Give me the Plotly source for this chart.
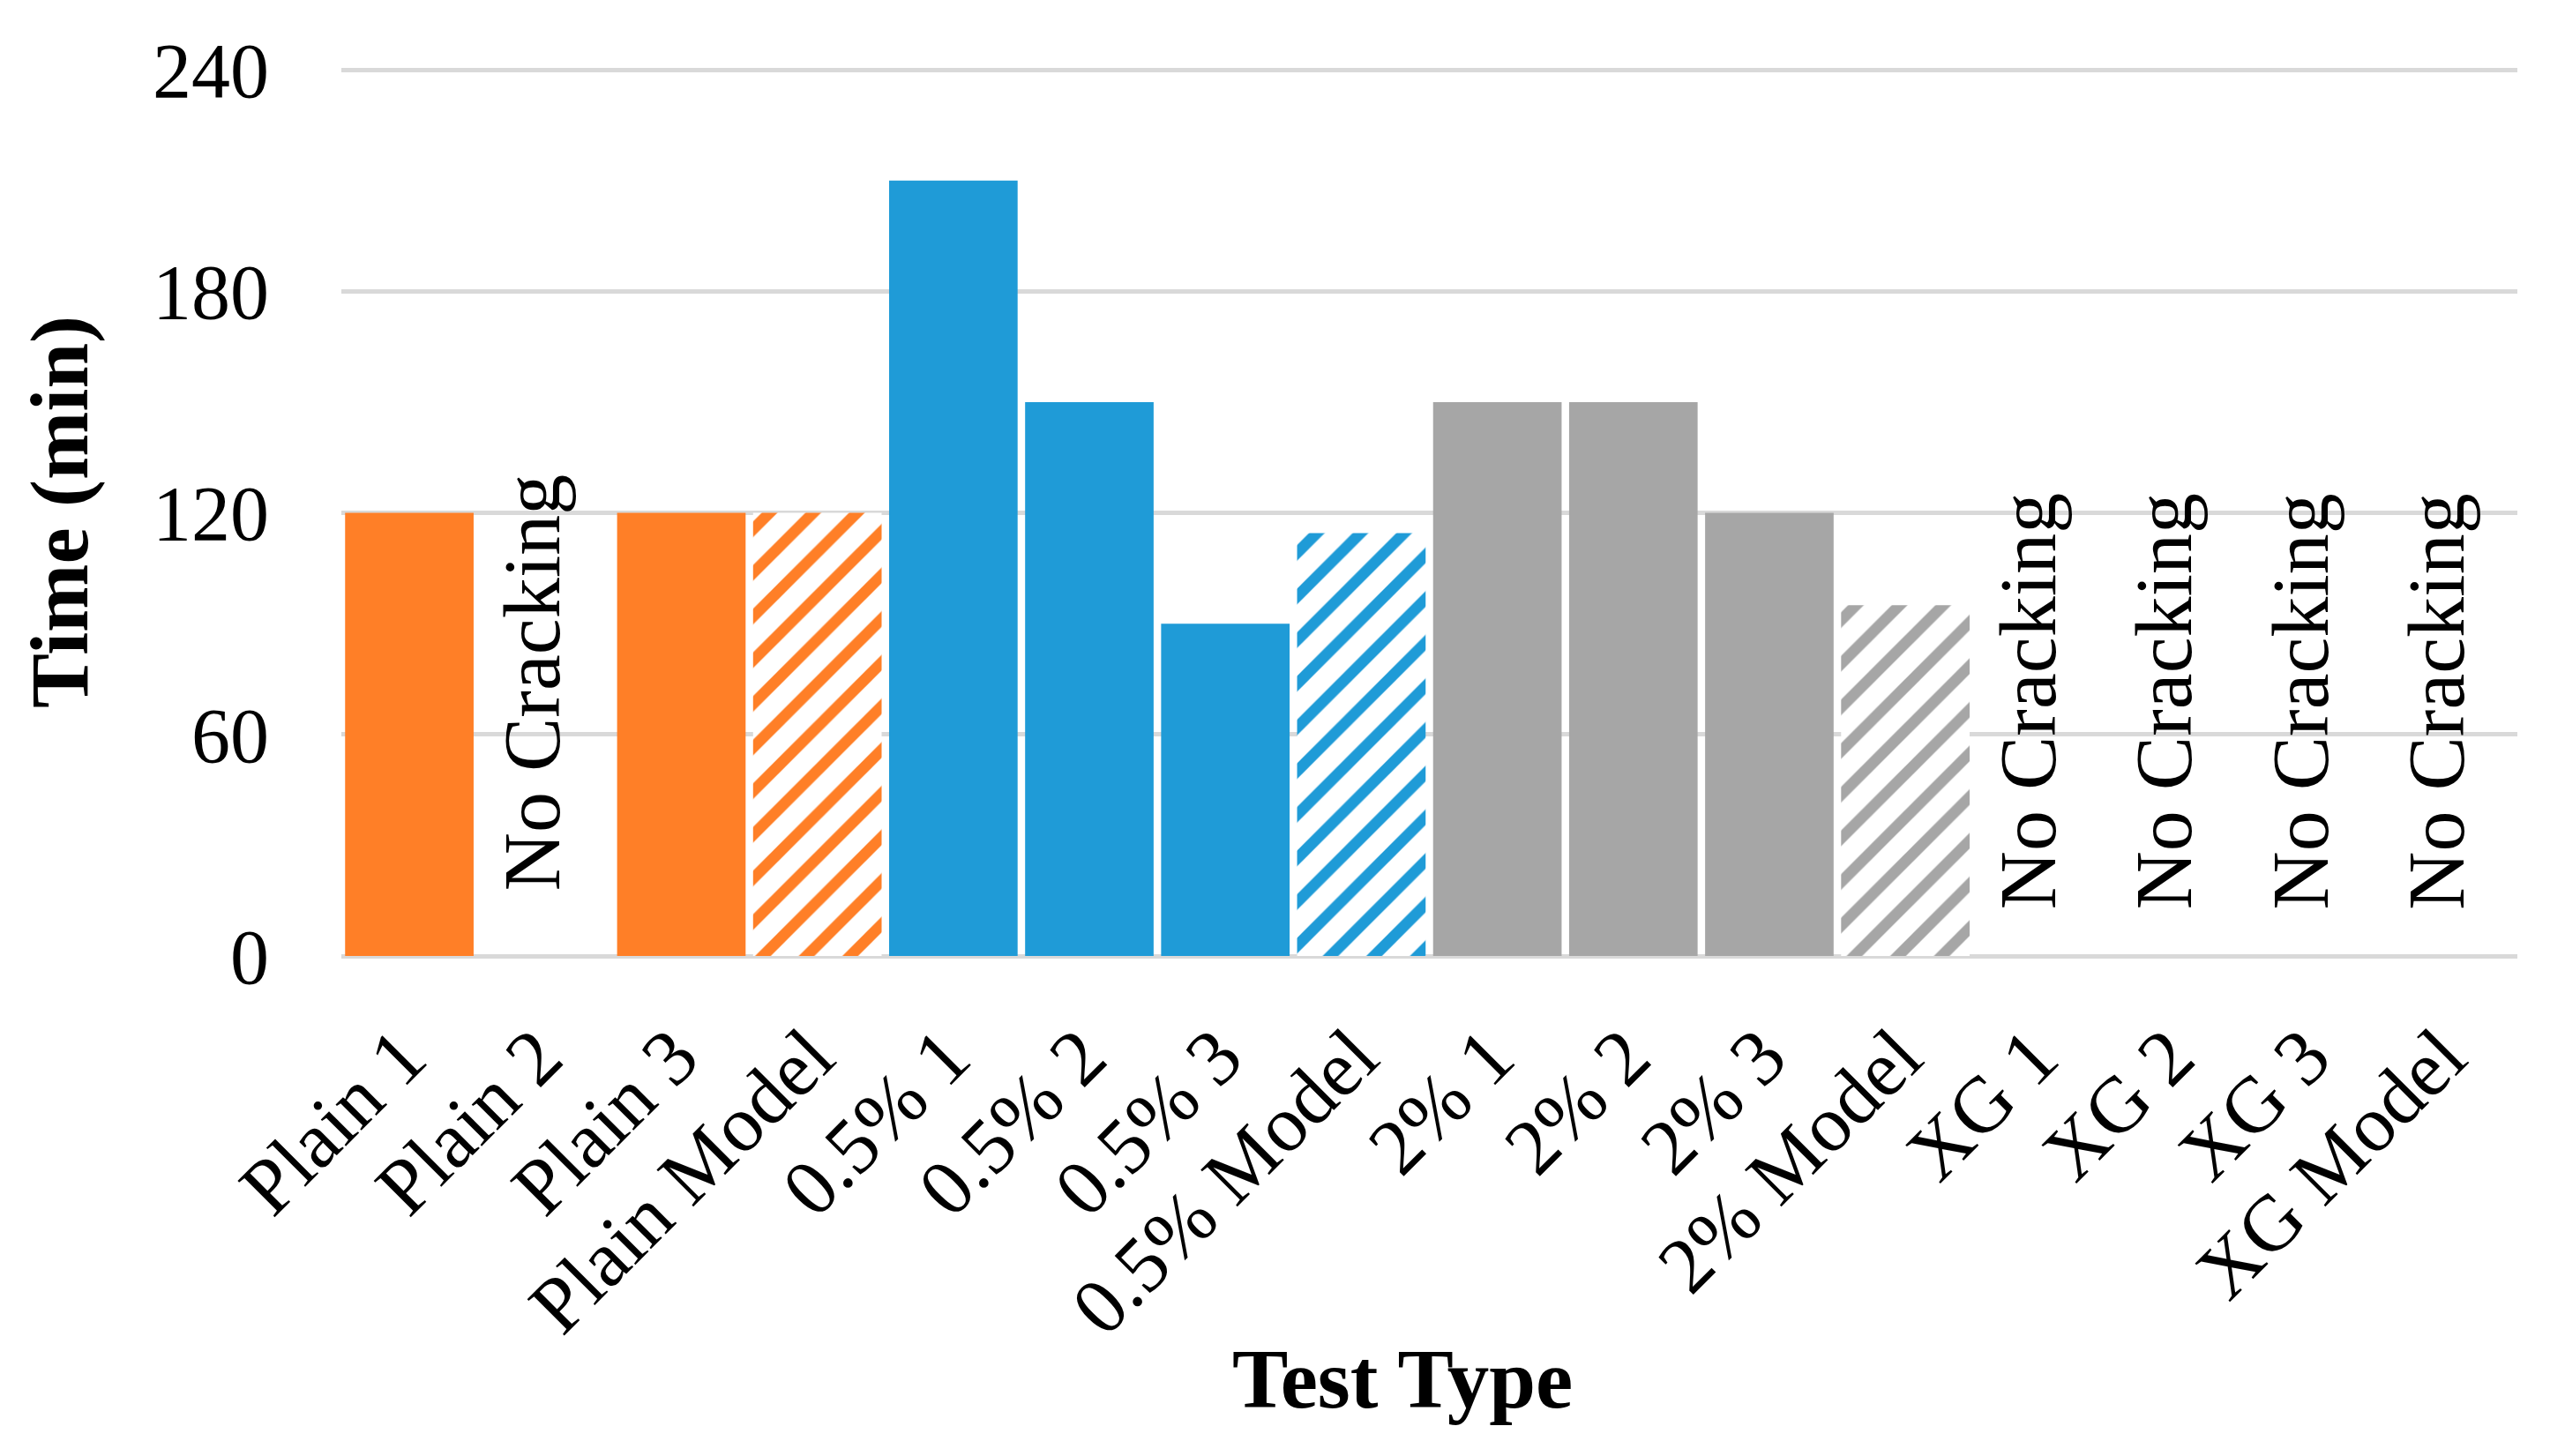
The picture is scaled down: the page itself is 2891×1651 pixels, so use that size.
import plotly.graph_objects as go

categories = ["Plain 1", "Plain 2", "Plain 3", "Plain Model",
              "0.5% 1", "0.5% 2", "0.5% 3", "0.5% Model",
              "2% 1", "2% 2", "2% 3", "2% Model",
              "XG 1", "XG 2", "XG 3", "XG Model"]
test_values = [120, None, 120, None,
               210, 150, 90, None,
               150, 150, 120, None,
               None, None, None, None]
model_values = [None, None, None, 120,
                None, None, None, 114.5,
                None, None, None, 95,
                None, None, None, None]
groups = ["Plain", "Plain", "Plain", "Plain",
          "0.5%", "0.5%", "0.5%", "0.5%",
          "2%", "2%", "2%", "2%",
          "XG", "XG", "XG", "XG"]
no_crack = ["Plain 2", "XG 1", "XG 2", "XG 3", "XG Model"]
no_crack_y = [74, 69, 69, 69, 69]
y_ticks = [0, 60, 120, 180, 240]

group_colors = {"Plain": "#FF7F27", "0.5%": "#1F9BD7", "2%": "#A6A6A6", "XG": "#A6A6A6"}
bar_colors = [group_colors[g] for g in groups]

FONT = "Liberation Serif, Times New Roman, serif"

fig = go.Figure()
fig.add_trace(go.Bar(
    x=categories, y=test_values,
    marker=dict(color=bar_colors, line=dict(width=0)),
    showlegend=False, name="Test",
))
fig.add_trace(go.Bar(
    x=categories, y=model_values,
    marker=dict(color="white", line=dict(width=0),
                pattern=dict(shape="/", fgcolor=bar_colors, bgcolor="white",
                             fillmode="replace", size=35, solidity=0.36)),
    showlegend=False, name="Model",
))

for cat, yv in zip(no_crack, no_crack_y):
    fig.add_annotation(x=cat, y=yv, xref="x", yref="y", text="No Cracking",
                       textangle=-90, showarrow=False, xshift=-15,
                       font=dict(family=FONT, size=92, color="black"),
                       xanchor="center", yanchor="middle")

fig.add_annotation(x=0.4877, y=-0.477, xref="paper", yref="paper",
                   text="<b>Test Type</b>", showarrow=False,
                   font=dict(family=FONT, size=95, color="black"),
                   xanchor="center", yanchor="middle")

fig.update_layout(
    width=2891, height=1651,
    paper_bgcolor="white", plot_bgcolor="white",
    barmode="overlay", bargap=0.055,
    margin=dict(l=379, r=45, t=69, b=575),
    font=dict(family=FONT, color="black"),
    xaxis=dict(
        tickangle=-45, automargin=False,
        tickfont=dict(family=FONT, size=90, color="black"),
        showline=False, showgrid=False, zeroline=False, ticks="",
        ticklabelstandoff=42, ticklabelshift=-8,
    ),
    yaxis=dict(
        range=[0, 240.5], tickvals=y_ticks, automargin=False,
        tickfont=dict(family=FONT, size=88, color="black"),
        title=dict(text="<b>Time (min)</b>", font=dict(family=FONT, size=93, color="black"),
                   standoff=42),
        showgrid=True, gridcolor="#D9D9D9", gridwidth=5,
        zeroline=True, zerolinecolor="#D9D9D9", zerolinewidth=5,
        showline=False, ticks="", ticklabelstandoff=81,
    ),
)

fig.write_html("out.html")
